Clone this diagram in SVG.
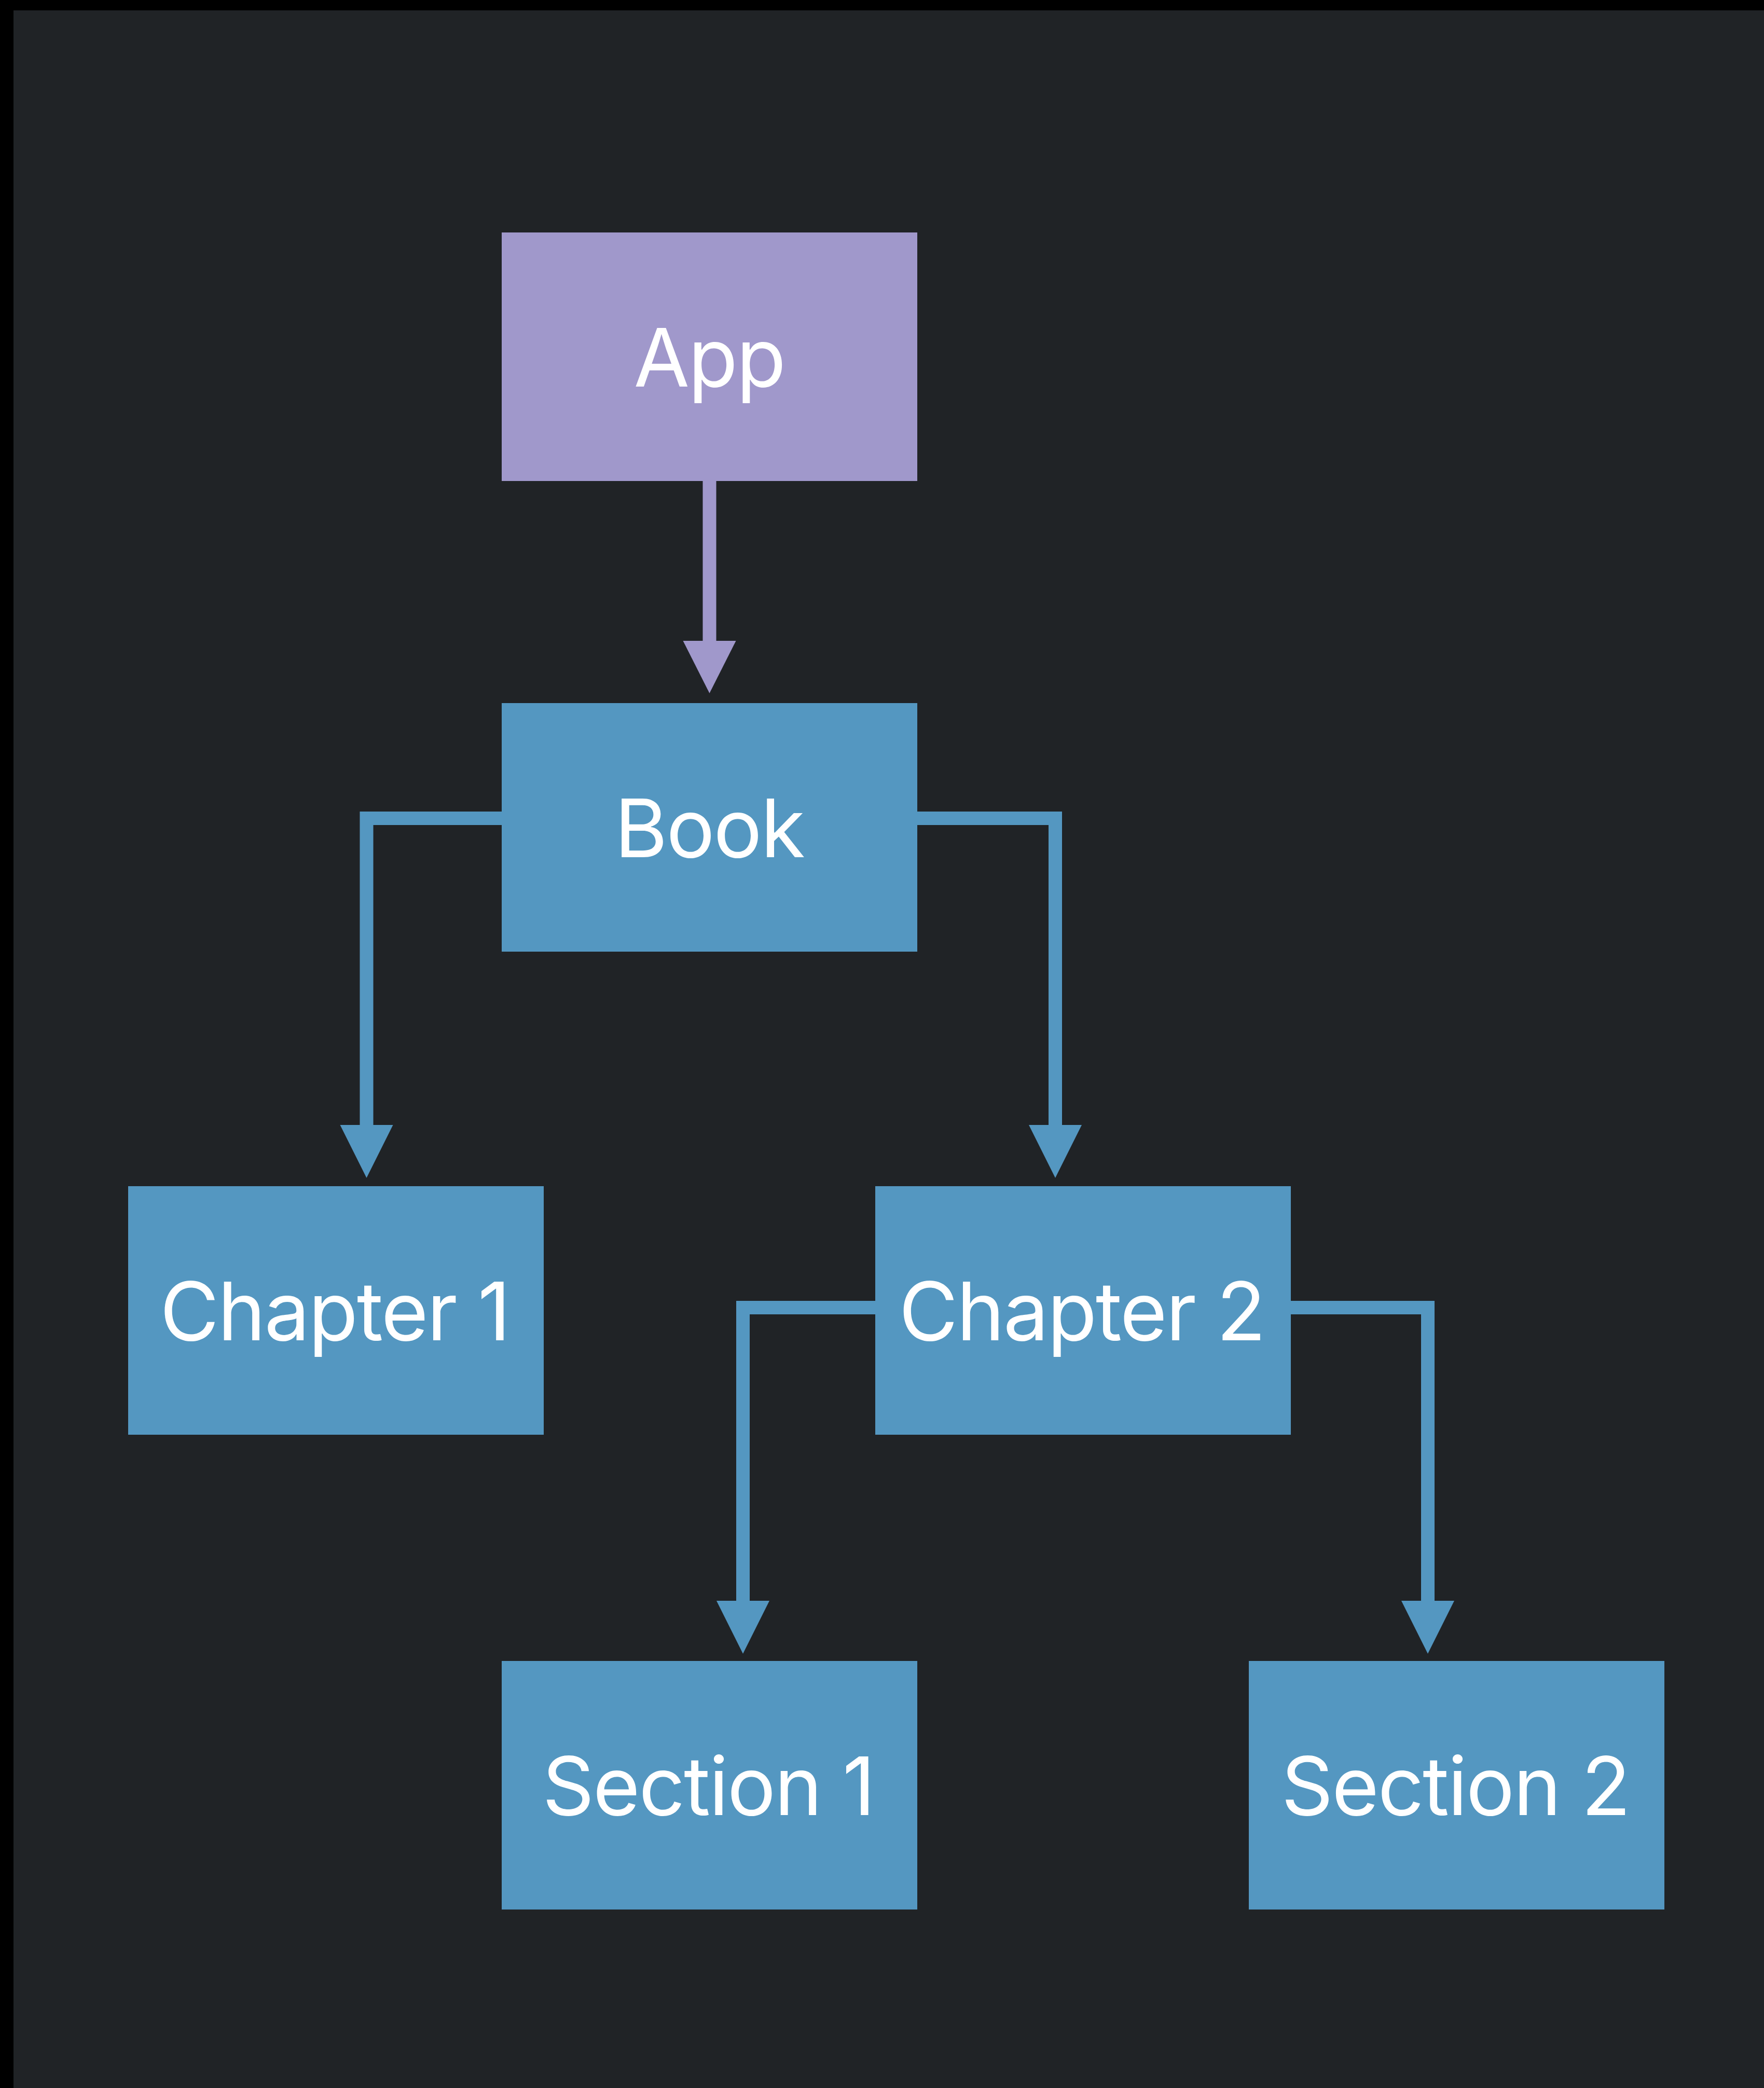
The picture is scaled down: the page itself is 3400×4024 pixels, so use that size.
<svg xmlns="http://www.w3.org/2000/svg" width="3400" height="4024" viewBox="0 0 3400 4024">
<style>
.node-blue{fill:#5497c1}
.node-purple{fill:#a098cb}
.lbl{font-family:Inter,"Liberation Sans",sans-serif;font-size:156px;letter-spacing:-2.5px;fill:#ffffff;text-anchor:middle}
.conn-blue{fill:none;stroke:#5497c1;stroke-width:26;stroke-linejoin:miter;stroke-linecap:butt}
.conn-purple{fill:none;stroke:#a098cb;stroke-width:26;stroke-linecap:butt}
</style>
<defs>
<marker id="arrB" markerUnits="userSpaceOnUse" viewBox="0 -51 102 102" refX="0" refY="0" markerWidth="102" markerHeight="102" orient="auto" overflow="visible">
<path d="M0,-51 L102,0 L0,51 Z" fill="#5497c1"/>
</marker>
<marker id="arrP" markerUnits="userSpaceOnUse" viewBox="0 -51 102 102" refX="0" refY="0" markerWidth="102" markerHeight="102" orient="auto" overflow="visible">
<path d="M0,-51 L101,0 L0,51 Z" fill="#a098cb"/>
</marker>
</defs>
<rect x="0" y="0" width="3400" height="4024" fill="#000000"/>
<rect x="26" y="20" width="3374" height="4004" fill="#202326"/>
<g id="connectors">
<path class="conn-purple" d="M1367.5,926 L1367.5,1235" marker-end="url(#arrP)"/>
<path class="conn-blue" d="M968,1577 L706.5,1577 L706.5,2168" marker-end="url(#arrB)"/>
<path class="conn-blue" d="M1767,1577 L2034,1577 L2034,2168" marker-end="url(#arrB)"/>
<path class="conn-blue" d="M1688,2520 L1432,2520 L1432,3085" marker-end="url(#arrB)"/>
<path class="conn-blue" d="M2487,2520 L2752,2520 L2752,3085" marker-end="url(#arrB)"/>
</g>
<g id="app">
<rect class="node-purple" x="967" y="448" width="801" height="479"/>
<text class="lbl" x="1367" y="745">App</text>
</g>
<g id="book">
<rect class="node-blue" x="967" y="1355" width="801" height="479"/>
<text class="lbl" x="1367" y="1652">Book</text>
</g>
<g id="chapter1">
<rect class="node-blue" x="247" y="2286" width="801" height="479"/>
<text class="lbl" x="645" y="2583">Chapter 1</text>
</g>
<g id="chapter2">
<rect class="node-blue" x="1687" y="2286" width="801" height="479"/>
<text class="lbl" x="2085" y="2583">Chapter 2</text>
</g>
<g id="section1">
<rect class="node-blue" x="967" y="3201" width="801" height="479"/>
<text class="lbl" x="1365" y="3498">Section 1</text>
</g>
<g id="section2">
<rect class="node-blue" x="2407" y="3201" width="801" height="479"/>
<text class="lbl" x="2805" y="3498">Section 2</text>
</g>
</svg>
